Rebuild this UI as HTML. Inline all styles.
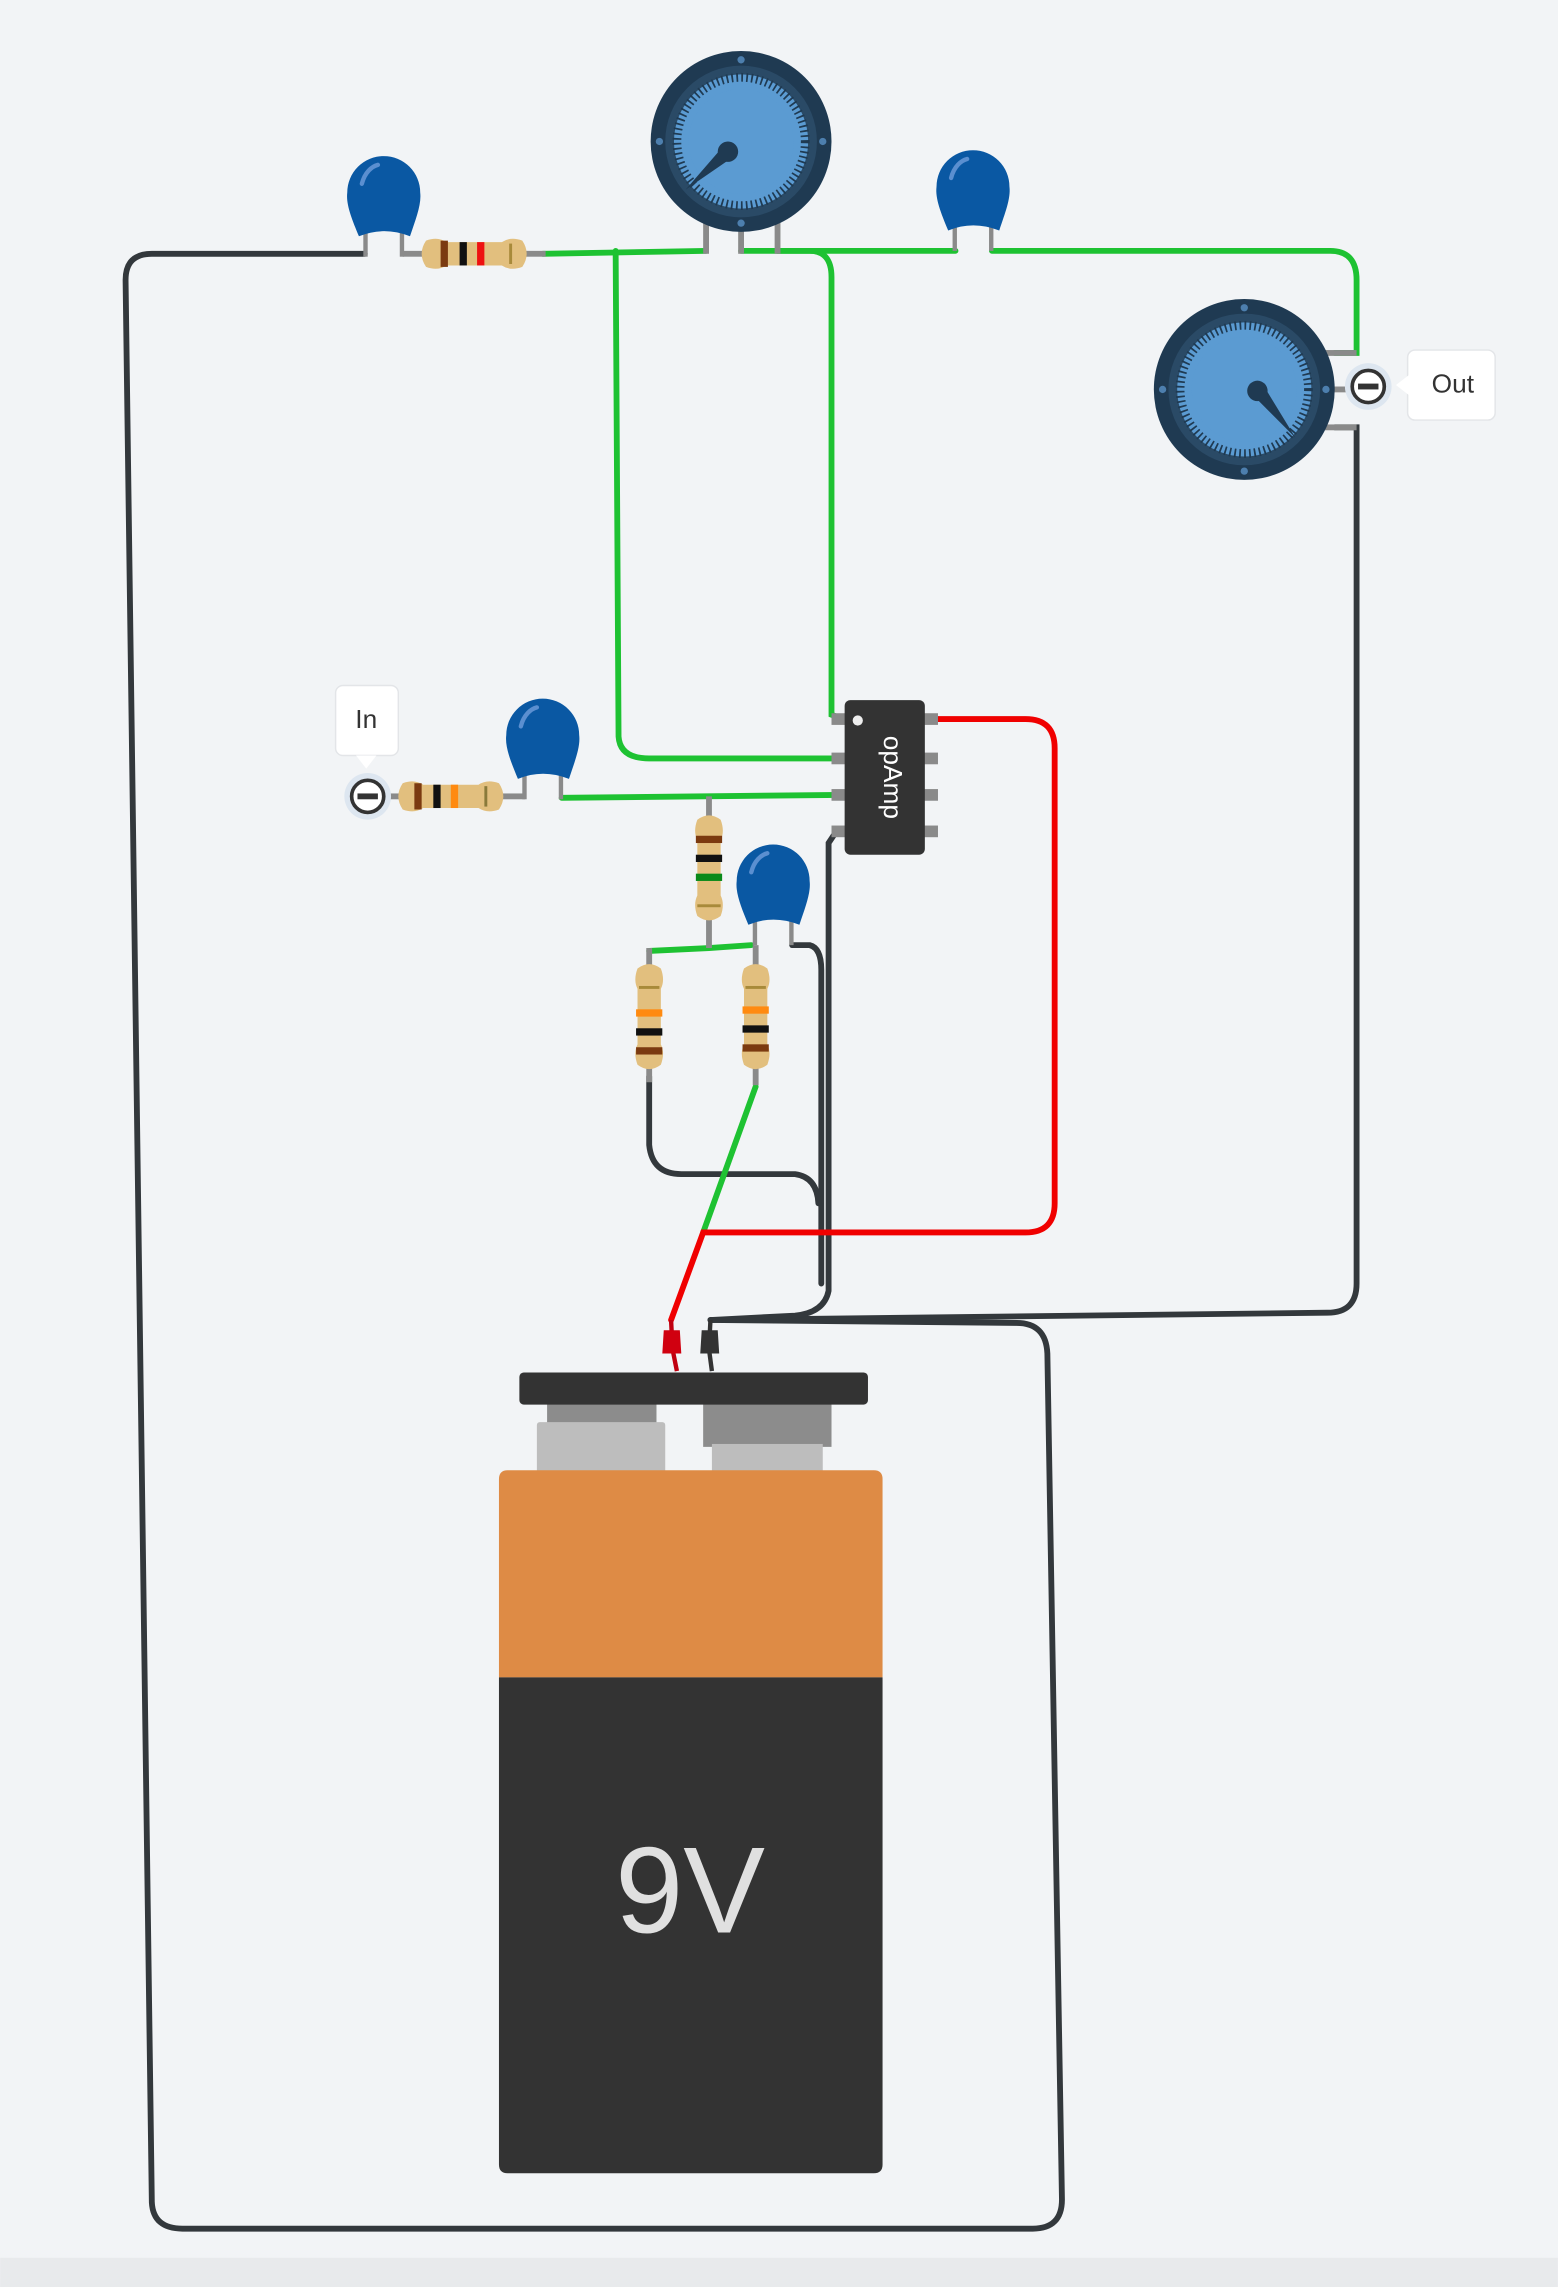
<!DOCTYPE html>
<html><head><meta charset="utf-8"><style>
html,body{margin:0;padding:0;background:#f2f4f6;}
svg{display:block;}
text{font-family:"Liberation Sans",sans-serif;}
</style></head><body>
<svg width="1558" height="2287" viewBox="0 0 1068 1568" xmlns="http://www.w3.org/2000/svg">
<defs>
<g id="cap">
<rect x="-14" y="20" width="3" height="20" fill="#8a8a8a"/>
<rect x="11" y="20" width="3" height="20" fill="#8a8a8a"/>
<path d="M-17,26 C-22,14 -26,4 -25,-4 A25,25 0 0 1 25,-4 C26,4 22,14 18,26 Q0,19 -17,26 Z" fill="#0a58a3"/>
<path d="M-15,-10 C-13,-18 -8,-22 -4,-23" stroke="#5b8fd0" stroke-width="3" fill="none" stroke-linecap="round"/>
</g>
<g id="pot">
<circle r="62" fill="#1f3a52"/>
<circle r="52" fill="#2a4a66"/>
<circle r="46" fill="#5b9bd2"/>
<circle r="44" fill="none" stroke="#1f3a52" stroke-width="6" stroke-dasharray="1.2 2.2"/>
<circle r="36" fill="#5b9bd2"/>
<circle cx="0" cy="-56" r="2.5" fill="#4d7fae"/><circle cx="0" cy="56" r="2.5" fill="#4d7fae"/>
<circle cx="-56" cy="0" r="2.5" fill="#4d7fae"/><circle cx="56" cy="0" r="2.5" fill="#4d7fae"/>
</g>
</defs>
<rect width="1068" height="1568" fill="#f2f4f6"/>
<rect y="1548" width="1068" height="20" fill="#e8eaec"/>

<g fill="none" stroke="#33383c" stroke-width="4" stroke-linecap="round">
<path d="M250,174 L104,174 Q86,174 86,192 L104,1510 Q105,1528 125,1528 L708,1528 Q728,1528 728,1508 L718,928 Q717,907 697,907 L487,905"/>
<path d="M915,293 L930,293 L930,880 Q930,900 910,900 L487,905"/>
<path d="M572,572 L568,578 L568,885 Q565,900 545,902 L487,905"/>
<path d="M543,648 L555,648 Q563,650 563,665 L563,880"/>
<path d="M445,738 L445,785 Q447,805 467,805 L545,805 Q560,807 561,825"/>
</g>
<g fill="none" stroke="#1ec232" stroke-width="4" stroke-linecap="round">
<path d="M372,174 L484,172"/>
<path d="M422,172 L424,505 Q425,520 445,520 L575,520"/>
<path d="M508,172 L555,172 Q570,172 570,190 L570,490 L578,493"/>
<path d="M533,172 L655,172"/>
<path d="M680,172 L912,172 Q930,172 930,192 L930,242 L915,242"/>
<path d="M385,547 L575,545"/>
<path d="M445,652 L486,650 L515,648"/>
<path d="M518,745 L482,845"/>
</g>
<path d="M640,493 L703,493 Q723,493 723,513 L723,825 Q723,845 703,845 L482,845 L460,905" fill="none" stroke="#f00000" stroke-width="4" stroke-linecap="round"/>

<g fill="#8a8a8a"><rect x="482" y="142" width="4" height="32"/><rect x="506" y="142" width="4" height="32"/><rect x="531" y="142" width="4" height="32"/></g>
<use href="#pot" x="508" y="97"/>
<path d="M470,130 L496,100 L502,108 Z" fill="#1f3a52"/>
<circle cx="499" cy="104" r="7" fill="#1f3a52"/>

<g fill="#8a8a8a"><rect x="905" y="240" width="25" height="4"/><rect x="905" y="265" width="25" height="4"/><rect x="905" y="291" width="25" height="4"/></g>
<use href="#pot" x="853" y="267"/>
<path d="M888,300 L858,270 L866,264 Z" fill="#1f3a52"/>
<circle cx="862" cy="268" r="7" fill="#1f3a52"/>

<use href="#cap" x="263" y="136"/>
<use href="#cap" x="667" y="132"/>
<use href="#cap" x="372" y="508"/>
<use href="#cap" x="530" y="608"/>

<g>
<rect x="276" y="172" width="18" height="4" fill="#8a8a8a"/><rect x="358" y="172" width="16" height="4" fill="#8a8a8a"/>
<path d="M292,165 Q300,162 306,166 L344,166 Q350,162 358,165 Q364,174 358,183 Q350,186 344,182 L306,182 Q300,186 292,183 Q286,174 292,165 Z" fill="#e2bf7e"/>
<rect x="302" y="165" width="5" height="18" fill="#7b3a10"/><rect x="315" y="166" width="5" height="16" fill="#111"/><rect x="327" y="166" width="5" height="16" fill="#ee1111"/><rect x="349" y="167" width="2" height="14" fill="#a88a3a"/>
</g>
<g>
<rect x="262" y="544" width="14" height="4" fill="#8a8a8a"/><rect x="340" y="544" width="20" height="4" fill="#8a8a8a"/>
<path d="M276,537 Q284,534 290,538 L328,538 Q334,534 342,537 Q348,546 342,555 Q334,558 328,554 L290,554 Q284,558 276,555 Q270,546 276,537 Z" fill="#e2bf7e"/>
<rect x="284" y="537" width="5" height="18" fill="#7b3a10"/><rect x="297" y="538" width="5" height="16" fill="#111"/><rect x="309" y="538" width="5" height="16" fill="#ff8a10"/><rect x="332" y="539" width="2" height="14" fill="#8a7a3a"/>
</g>
<g>
<rect x="484" y="546" width="4" height="14" fill="#8a8a8a"/><rect x="484" y="628" width="4" height="22" fill="#8a8a8a"/>
<path d="M478,562 Q475,570 478,576 L478,614 Q475,620 478,628 Q486,634 494,628 Q497,620 494,614 L494,576 Q497,570 494,562 Q486,556 478,562 Z" fill="#e2bf7e"/>
<rect x="477" y="573" width="18" height="5" fill="#7b3a10"/><rect x="477" y="586" width="18" height="5" fill="#111"/><rect x="477" y="599" width="18" height="5" fill="#0a8a1a"/><rect x="478" y="620" width="16" height="2" fill="#a88a3a"/>
</g>
<g>
<rect x="443" y="650" width="4" height="14" fill="#8a8a8a"/><rect x="443" y="730" width="4" height="12" fill="#8a8a8a"/>
<path d="M437,664 Q434,672 437,678 L437,716 Q434,722 437,730 Q445,736 453,730 Q456,722 453,716 L453,678 Q456,672 453,664 Q445,658 437,664 Z" fill="#e2bf7e"/>
<rect x="438" y="676" width="14" height="2" fill="#a88a3a"/><rect x="436" y="692" width="18" height="5" fill="#ff8a10"/><rect x="436" y="705" width="18" height="5" fill="#111"/><rect x="436" y="718" width="18" height="5" fill="#7b3a10"/>
</g>
<g>
<rect x="516" y="648" width="4" height="16" fill="#8a8a8a"/><rect x="516" y="730" width="4" height="14" fill="#8a8a8a"/>
<path d="M510,664 Q507,672 510,678 L510,716 Q507,722 510,730 Q518,736 526,730 Q529,722 526,716 L526,678 Q529,672 526,664 Q518,658 510,664 Z" fill="#e2bf7e"/>
<rect x="511" y="676" width="14" height="2" fill="#a88a3a"/><rect x="509" y="690" width="18" height="5" fill="#ff8a10"/><rect x="509" y="703" width="18" height="5" fill="#111"/><rect x="509" y="716" width="18" height="5" fill="#7b3a10"/>
</g>

<g fill="#8a8a8a">
<rect x="570" y="489" width="10" height="8"/><rect x="570" y="516" width="10" height="8"/><rect x="570" y="541" width="10" height="8"/><rect x="570" y="566" width="10" height="8"/>
<rect x="633" y="489" width="10" height="8"/><rect x="633" y="516" width="10" height="8"/><rect x="633" y="541" width="10" height="8"/><rect x="633" y="566" width="10" height="8"/>
</g>
<rect x="579" y="480" width="55" height="106" rx="4" fill="#333"/>
<circle cx="588" cy="494" r="3.5" fill="#eee"/>
<text x="606" y="533" fill="#fff" font-size="18" text-anchor="middle" transform="rotate(90 606 533)">opAmp</text>

<rect x="230" y="470" width="43" height="48" rx="5" fill="#fff" stroke="#e3e5e8"/>
<path d="M244,518 L251,527 L258,518 Z" fill="#fff"/>
<text x="251" y="499" font-size="18" fill="#333" text-anchor="middle">In</text>
<circle cx="252" cy="546" r="16" fill="#dde6f0"/>
<circle cx="252" cy="546" r="11" fill="#fff" stroke="#333" stroke-width="2.5"/>
<rect x="245" y="544" width="14" height="4" fill="#333"/>

<rect x="965" y="240" width="60" height="48" rx="5" fill="#fff" stroke="#e3e5e8"/>
<path d="M966,257 L957,264 L966,271 Z" fill="#fff"/>
<text x="996" y="269" font-size="18" fill="#333" text-anchor="middle">Out</text>
<circle cx="938" cy="265" r="16" fill="#dde6f0"/>
<circle cx="938" cy="265" r="11" fill="#fff" stroke="#333" stroke-width="2.5"/>
<rect x="931" y="263" width="14" height="4" fill="#333"/>

<path d="M460,905 L461,925 L464,940" stroke="#c00010" stroke-width="3" fill="none"/>
<path d="M487,905 L486,925 L488,940" stroke="#333" stroke-width="3" fill="none"/>
<path d="M455,912 L466,912 L467,928 L454,928 Z" fill="#d00010"/>
<path d="M481,912 L492,912 L493,928 L480,928 Z" fill="#333"/>

<rect x="375" y="960" width="75" height="16" fill="#8c8c8c"/>
<rect x="368" y="975" width="88" height="35" rx="2" fill="#bdbdbd"/>
<rect x="482" y="960" width="88" height="32" fill="#8c8c8c"/>
<rect x="488" y="990" width="76" height="20" fill="#bdbdbd"/>
<rect x="356" y="941" width="239" height="22" rx="3" fill="#333"/>
<path d="M348,1008 L599,1008 Q605,1008 605,1014 L605,1150 L342,1150 L342,1014 Q342,1008 348,1008 Z" fill="#de8b45"/>
<path d="M342,1150 L605,1150 L605,1484 Q605,1490 599,1490 L348,1490 Q342,1490 342,1484 Z" fill="#333"/>
<text x="473" y="1325" font-size="84" fill="#e0e0e0" text-anchor="middle" font-family="DejaVu Sans, sans-serif">9V</text>
</svg>
</body></html>
